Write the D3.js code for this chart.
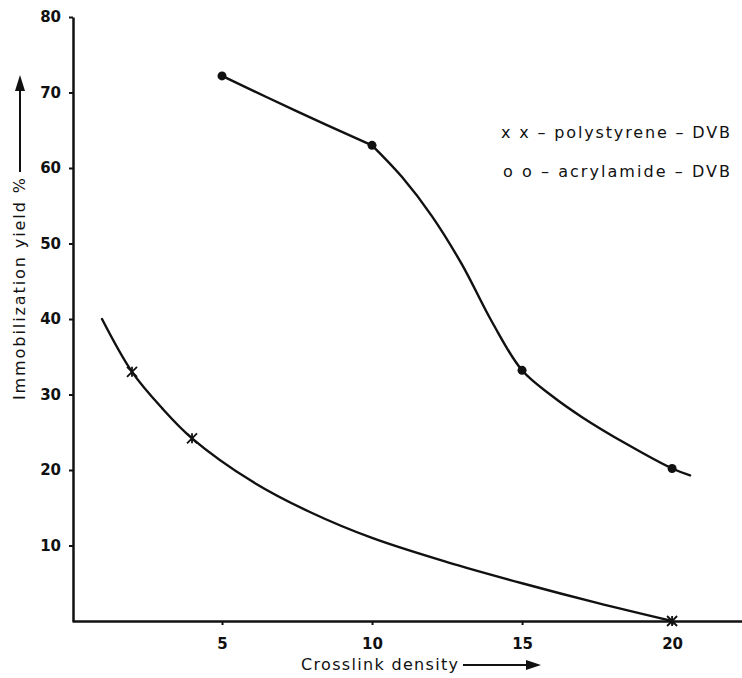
<!DOCTYPE html>
<html>
<head>
<meta charset="utf-8">
<script src="https://cdn.jsdelivr.net/npm/d3@7"></script>
<style>
  body { margin: 0; background: #fff; }
  text { font-family: "DejaVu Sans", sans-serif; fill: #111; }
</style>
</head>
<body>
<div id="chart"></div>
<script>
// values
var xTicks = [5, 10, 15, 20];
var yTicks = [10, 20, 30, 40, 50, 60, 70, 80];

// acrylamide - DVB (dots) and its hand drawn curve (bends at 10)
var acrylX = [5, 10, 15, 20];
var acrylY = [72.2, 63.0, 33.2, 20.2];
var acrylCurveX = [5, 7.5, 10, 11, 12, 13, 14, 15, 16, 17, 18.5, 20, 20.6];
var acrylCurveY = [72.2, 67.5, 63.0, 58.8, 53.6, 47.2, 39.6, 33.2, 29.8, 27.0, 23.4, 20.2, 19.3];

// polystyrene - DVB (stars) and its curve
var polyX = [2, 4, 20];
var polyY = [33.0, 24.2, 0];
var polyCurveX = [1, 2, 3, 4, 6, 8, 10, 12.5, 15, 17.5, 20];
var polyCurveY = [40, 33.0, 28.2, 24.2, 18.5, 14.3, 11.0, 7.8, 5.0, 2.4, 0];

var legendLabels = ["x x \u2013 polystyrene \u2013 DVB", "o o \u2013 acrylamide \u2013 DVB"];

var width = 742, height = 678;

var svg = d3.select("#chart").append("svg")
    .attr("width", width)
    .attr("height", height);

var x = d3.scaleLinear().domain([0, 22.33]).range([72, 742]);
var y = d3.scaleLinear().domain([0, 80]).range([621, 17]);

// axes
svg.append("g")
    .attr("transform", "translate(73,0)")
    .call(d3.axisLeft(y).tickValues(yTicks).tickSize(4).tickSizeOuter(0).tickPadding(8));
svg.append("g")
    .attr("transform", "translate(0,621)")
    .call(d3.axisBottom(x).tickValues(xTicks).tickSize(4).tickSizeOuter(0).tickPadding(13));

svg.selectAll(".domain").attr("stroke", "#111").attr("stroke-width", 2.5);
svg.selectAll(".tick line").attr("stroke", "#111").attr("stroke-width", 2);
svg.selectAll(".tick text")
    .style("font-family", "'DejaVu Sans', sans-serif")
    .style("font-size", "15px")
    .style("font-weight", "bold")
    .attr("fill", "#111");

// curves
var line = d3.line()
    .x(function (d) { return x(d[0]); })
    .y(function (d) { return y(d[1]); })
    .curve(d3.curveCatmullRom.alpha(0.5));

var acryl = d3.zip(acrylCurveX, acrylCurveY);
var curves = [acryl.slice(0, 3), acryl.slice(2), d3.zip(polyCurveX, polyCurveY)];
svg.selectAll(".curve")
    .data(curves)
    .enter().append("path")
    .attr("class", "curve")
    .attr("d", line)
    .attr("fill", "none")
    .attr("stroke", "#111")
    .attr("stroke-width", 2.4)
    .attr("stroke-linecap", "round");

// markers
svg.selectAll(".dot")
    .data(d3.zip(acrylX, acrylY))
    .enter().append("circle")
    .attr("class", "dot")
    .attr("cx", function (d) { return x(d[0]); })
    .attr("cy", function (d) { return y(d[1]); })
    .attr("r", 4.5)
    .attr("fill", "#111");

var s = 5;
svg.selectAll(".star")
    .data(d3.zip(polyX, polyY))
    .enter().append("path")
    .attr("class", "star")
    .attr("transform", function (d) { return "translate(" + x(d[0]) + "," + y(d[1]) + ")"; })
    .attr("d", "M" + -s + "," + -s + "L" + s + "," + s +
               "M" + s + "," + -s + "L" + -s + "," + s +
               "M0," + -s + "L0," + s)
    .attr("stroke", "#111")
    .attr("stroke-width", 1.8)
    .attr("fill", "none");

// legend
svg.selectAll(".legend")
    .data(legendLabels)
    .enter().append("text")
    .attr("class", "legend")
    .attr("x", function (d, i) { return i === 0 ? 501 : 503; })
    .attr("y", function (d, i) { return 138 + i * 39; })
    .attr("textLength", function (d, i) { return i === 0 ? 229 : 227; })
    .attr("lengthAdjust", "spacing")
    .style("font-size", "16px")
    .style("font-weight", "500")
    .text(function (d) { return d; });

// axis titles with arrows
var arrowColor = "#111";

svg.append("text")
    .attr("x", 301)
    .attr("y", 670)
    .attr("textLength", 157)
    .attr("lengthAdjust", "spacing")
    .style("font-size", "16px")
    .text("Crosslink density");
svg.append("line")
    .attr("x1", 463).attr("x2", 528)
    .attr("y1", 665).attr("y2", 665)
    .attr("stroke", arrowColor).attr("stroke-width", 2);
svg.append("path")
    .attr("d", "M541,665L526,660L526,670Z")
    .attr("fill", arrowColor);

svg.append("text")
    .attr("transform", "translate(25,400) rotate(-90)")
    .attr("textLength", 222)
    .attr("lengthAdjust", "spacing")
    .style("font-size", "16px")
    .text("Immobilization yield %");
svg.append("line")
    .attr("x1", 20).attr("x2", 20)
    .attr("y1", 172).attr("y2", 88)
    .attr("stroke", arrowColor).attr("stroke-width", 2);
svg.append("path")
    .attr("d", "M20,75L15,91L25,91Z")
    .attr("fill", arrowColor);
</script>
</body>
</html>
